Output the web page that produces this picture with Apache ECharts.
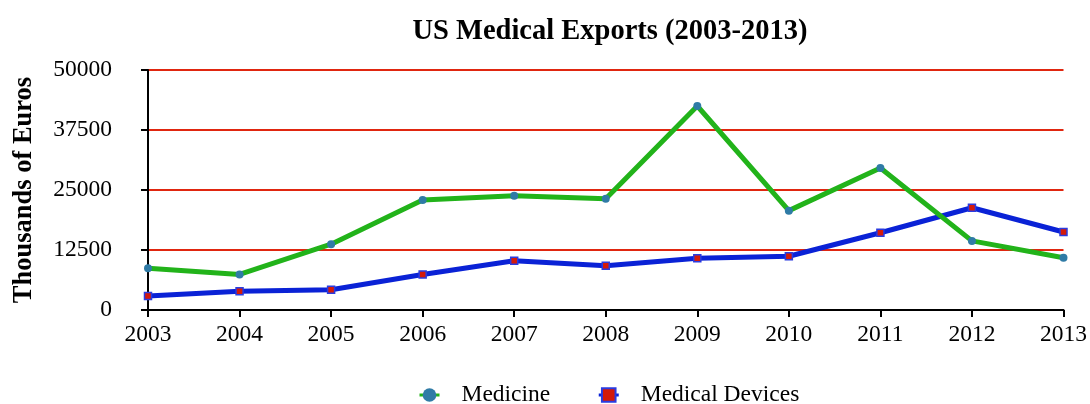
<!DOCTYPE html>
<html><head><meta charset="utf-8">
<script src="https://cdn.jsdelivr.net/npm/echarts@6/dist/echarts.min.js"></script>
<style>html,body{margin:0;padding:0;background:#fff}#c{width:1090px;height:404px}</style>
</head><body><div id="c"></div>
<script>
const years = ['2003','2004','2005','2006','2007','2008','2009','2010','2011','2012','2013'];
const medicine = [8700, 7400, 13700, 22900, 23800, 23200, 42500, 20700, 29600, 14400, 10900];
const devices = [2900, 3900, 4200, 7400, 10250, 9200, 10800, 11200, 16100, 21300, 16250];
const yTicks = [0, 12500, 25000, 37500, 50000];

const serif = '"Liberation Serif","Times New Roman",serif';
const chart = echarts.init(document.getElementById('c'));
chart.setOption({
  animation: false,
  textStyle: { fontFamily: serif },
  title: {
    text: 'US Medical Exports (2003-2013)',
    left: 605, textAlign: 'center', top: 12,
    textStyle: { fontFamily: serif, fontWeight: 'bold', fontSize: 28.5, color: '#000' }
  },
  grid: { left: 148, right: 26, top: 70, bottom: 94, containLabel: false },
  legend: {
    top: 378, left: 413,
    itemWidth: 20, itemHeight: 17, itemGap: 47,
    lineStyle: { width: 3 },
    textStyle: { fontFamily: serif, fontSize: 23.5, color: '#000', padding: [0,0,0,17] },
    data: ['Medicine', 'Medical Devices']
  },
  xAxis: {
    type: 'category', data: years, boundaryGap: false,
    axisLine: { lineStyle: { color: '#000', width: 2 } },
    axisTick: { alignWithLabel: true, length: 7, lineStyle: { color: '#000', width: 2 } },
    axisLabel: { fontFamily: serif, fontSize: 23.5, color: '#000', margin: 13 }
  },
  yAxis: {
    type: 'value', min: yTicks[0], max: yTicks[yTicks.length - 1], interval: 12500,
    name: 'Thousands of Euros', nameLocation: 'middle', nameGap: 110,
    nameTextStyle: { fontFamily: serif, fontWeight: 'bold', fontSize: 26.5, color: '#000' },
    axisLine: { show: true, lineStyle: { color: '#000', width: 2 } },
    axisTick: { show: true, length: 7, lineStyle: { color: '#000', width: 2 } },
    axisLabel: { fontFamily: serif, fontSize: 23.5, color: '#000', margin: 36, formatter: v => String(v) },
    splitLine: { show: true, lineStyle: { color: '#E0260F', width: 2 } }
  },
  series: [
    {
      name: 'Medicine', type: 'line', data: medicine,
      symbol: 'circle', symbolSize: 8,
      lineStyle: { color: '#22B31A', width: 5 },
      itemStyle: { color: '#2F7BA6', borderWidth: 0 },
      z: 3
    },
    {
      name: 'Medical Devices', type: 'line', data: devices,
      symbol: 'rect', symbolSize: 7,
      lineStyle: { color: '#0A22D6', width: 5 },
      itemStyle: { color: '#D41A0A', borderColor: '#2A3BE0', borderWidth: 1.5 },
      z: 2
    }
  ]
});
</script>
</body></html>
